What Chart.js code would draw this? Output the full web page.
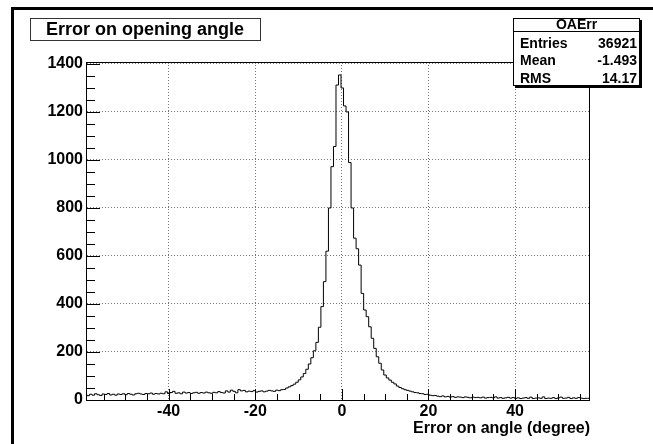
<!DOCTYPE html>
<html lang="en">
<head>
<meta charset="UTF-8">
<title>OAErr</title>
<script src="https://cdn.jsdelivr.net/npm/chart.js"></script>
<style>
  html, body { margin: 0; padding: 0; background: #fff; }
  #wrap { width: 653px; height: 444px; position: relative; }
</style>
</head>
<body>
<div id="wrap"><canvas id="oaerr"></canvas></div>
<script>
// histogram definition: 200 bins between xLow and xHigh (degrees)
const xLow = -58.85;
const xHigh = 57.3;
const nBins = 200;

// bin contents, left to right
const counts = [
  22, 18, 24, 20, 26, 22, 19, 25, 23, 27, 21, 24, 20, 25, 23,
  26, 22, 27, 24, 21, 26, 28, 25, 23, 27, 26, 29, 24, 27, 25, 28, 26,
  34, 27, 31, 36, 28, 30, 26, 33, 29, 31, 27, 30, 32, 28, 31, 29, 33, 30,
  28, 32, 30, 35, 31, 29, 38, 33, 41, 36, 30, 43, 38, 40, 34, 37,
  35, 39, 33, 36, 38, 34, 37, 40, 38, 36, 41, 39, 43, 44,
  50, 55, 60, 66, 74, 84, 96, 110, 128, 150, 176, 205, 240, 303, 389, 493,
  620, 800, 972, 1056, 1312, 1354, 1300, 1225, 1200, 989, 800, 674, 630, 562,
  444, 375, 347, 305, 257, 215, 180, 153, 125, 104, 92, 83, 74, 67, 58, 52,
  47, 43, 40, 37, 34, 31, 30, 27, 26, 23, 24, 20, 18, 19,
  16, 14, 17, 13, 15, 12, 14, 11, 13, 12,
  10, 13, 11, 9, 12, 10, 11, 9, 12, 8,
  10, 11, 9, 13, 8, 10, 7, 9, 11, 8,
  10, 7, 9, 6, 8, 10, 7, 12, 6, 8,
  9, 7, 13, 6, 8, 7, 10, 6, 9, 12,
  7, 8, 11, 6, 9, 7, 10, 8, 6, 7
];

const yMax = 1408;
const xTicks = [-40, -20, 0, 20, 40];
const yTicks = [0, 200, 400, 600, 800, 1000, 1200, 1400];
const xMinorStep = 5;
const yMinorStep = 50;

const histName = 'OAErr';
const histTitle = 'Error on opening angle';
const xTitle = 'Error on angle (degree)';
const statLabels = ['Entries', 'Mean', 'RMS'];
const statValues = ['36921', '-1.493', '14.17'];

const FONT = '"Liberation Sans", Arial, Helvetica, sans-serif';

// left edge of every bin plus the closing edge, for a stepped outline
const binWidth = (xHigh - xLow) / nBins;
const points = counts.map((c, i) => ({ x: xLow + i * binWidth, y: c }));
points.push({ x: xHigh, y: counts[counts.length - 1] });

// frame, inward tick marks (major + minor)
const frameTicks = {
  id: 'frameTicks',
  afterDatasetsDraw(chart) {
    const { ctx, chartArea: a, scales: { x, y } } = chart;
    ctx.save();
    ctx.strokeStyle = '#000';
    ctx.lineWidth = 1;
    ctx.strokeRect(Math.round(a.left) - 0.5, Math.round(a.top) + 0.5,
                   Math.round(a.right - a.left), Math.round(a.bottom - a.top));
    ctx.beginPath();
    for (let v = Math.ceil(xLow / xMinorStep) * xMinorStep; v <= xHigh; v += xMinorStep) {
      const px = Math.round(x.getPixelForValue(v)) + 0.5;
      const len = xTicks.includes(v) ? 11 : 6;
      ctx.moveTo(px, a.bottom);
      ctx.lineTo(px, a.bottom - len);
    }
    for (let v = 0; v <= yMax; v += yMinorStep) {
      const py = Math.round(y.getPixelForValue(v)) + 0.5;
      const len = yTicks.includes(v) ? 13 : 8;
      ctx.moveTo(a.left, py);
      ctx.lineTo(a.left + len, py);
    }
    ctx.stroke();
    ctx.restore();
  }
};

// canvas edge, title box and statistics box
const overlay = {
  id: 'overlay',
  afterDraw(chart) {
    const ctx = chart.ctx;
    ctx.save();
    ctx.fillStyle = '#000';
    ctx.fillRect(11, 7, 642, 3);
    ctx.fillRect(11, 7, 3, 437);

    // title
    ctx.fillStyle = '#fff';
    ctx.fillRect(30, 18, 230, 23);
    ctx.strokeStyle = '#333';
    ctx.lineWidth = 1;
    ctx.strokeRect(30.5, 18.5, 230, 22);
    ctx.fillStyle = '#000';
    ctx.font = 'bold 18px ' + FONT;
    ctx.textAlign = 'center';
    ctx.textBaseline = 'middle';
    ctx.fillText(histTitle, 145, 30);

    // stats
    const bx = 513, by = 18, bw = 127, bh = 68;
    ctx.fillStyle = '#000';
    ctx.fillRect(bx + 2, by + 2, bw, bh);
    ctx.fillStyle = '#fff';
    ctx.fillRect(bx, by, bw, bh);
    ctx.strokeStyle = '#000';
    ctx.strokeRect(bx + 0.5, by + 0.5, bw - 1, bh - 1);
    ctx.beginPath();
    ctx.moveTo(bx, by + 13.5);
    ctx.lineTo(bx + bw, by + 13.5);
    ctx.stroke();
    ctx.fillStyle = '#000';
    ctx.font = 'bold 14px ' + FONT;
    ctx.textAlign = 'center';
    ctx.fillText(histName, bx + bw / 2, by + 7);
    statLabels.forEach((lab, i) => {
      const ty = 44 + i * 17.5;
      ctx.textAlign = 'left';
      ctx.fillText(lab, 520, ty);
      ctx.textAlign = 'right';
      ctx.fillText(statValues[i], 637, ty);
    });
    ctx.restore();
  }
};

new Chart(document.getElementById('oaerr'), {
  type: 'line',
  data: {
    datasets: [{
      label: histName,
      data: points,
      stepped: 'after',
      borderColor: '#000',
      borderWidth: 1,
      pointRadius: 0,
      fill: false
    }]
  },
  options: {
    responsive: true,
    maintainAspectRatio: false,
    animation: false,
    layout: { padding: { left: 0, top: 62, right: 63, bottom: 0 } },
    plugins: { legend: { display: false }, tooltip: { enabled: false } },
    scales: {
      x: {
        type: 'linear',
        min: xLow,
        max: xHigh,
        afterFit(scale) { scale.height = 44; },
        afterBuildTicks(scale) { scale.ticks = xTicks.map(v => ({ value: v })); },
        ticks: {
          maxRotation: 0,
          autoSkip: false,
          padding: 2,
          color: '#000',
          font: { family: FONT, size: 16, weight: 'bold' },
          callback: v => String(v)
        },
        grid: { color: '#777', lineWidth: 1, drawTicks: false },
        border: { display: false, dash: [1, 2] },
        title: {
          display: true,
          text: xTitle,
          align: 'end',
          color: '#000',
          padding: { top: 0, bottom: 6 },
          font: { family: FONT, size: 16, weight: 'bold' }
        }
      },
      y: {
        min: 0,
        max: yMax,
        afterFit(scale) { scale.width = 87; },
        afterBuildTicks(scale) { scale.ticks = yTicks.map(v => ({ value: v })); },
        ticks: {
          autoSkip: false,
          padding: 4,
          color: '#000',
          font: { family: FONT, size: 16, weight: 'bold' },
          callback: v => String(v)
        },
        grid: { color: '#777', lineWidth: 1, drawTicks: false },
        border: { display: false, dash: [1, 2] }
      }
    }
  },
  plugins: [frameTicks, overlay]
});
</script>
</body>
</html>
